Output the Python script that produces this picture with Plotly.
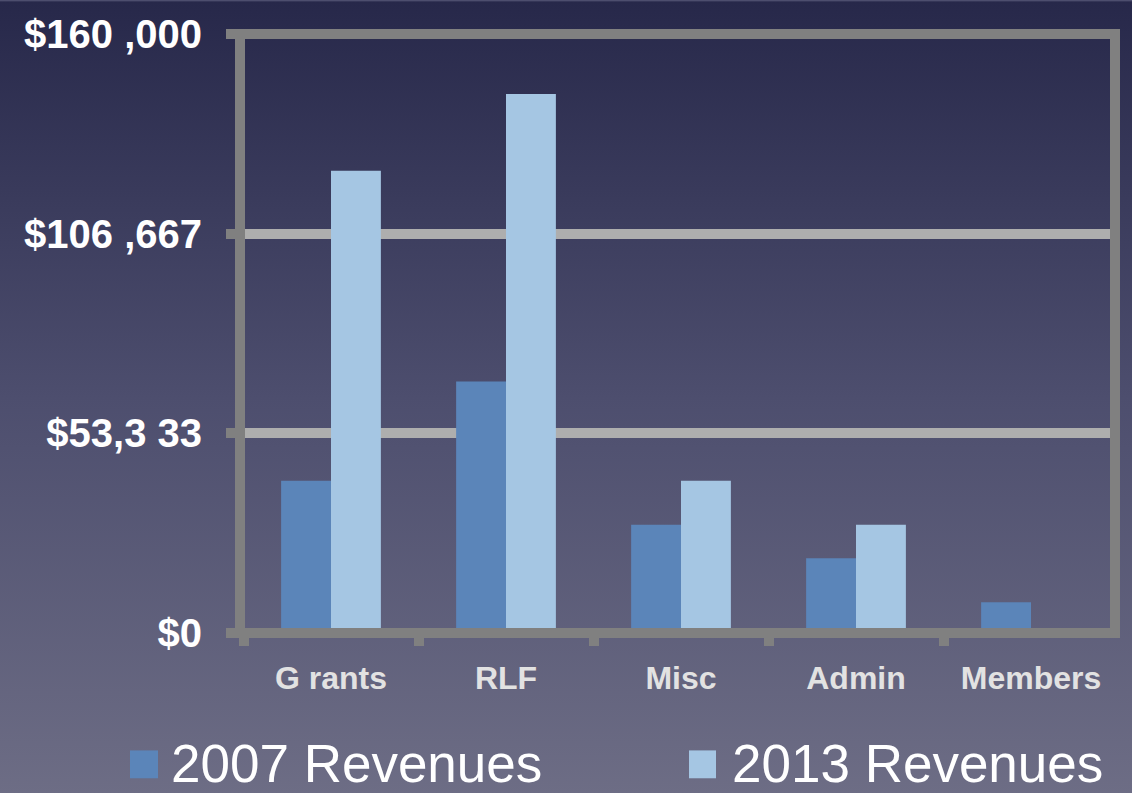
import base64
import plotly.graph_objects as go

# ---- data ----
categories = ["G rants", "RLF", "Misc", "Admin", "Members"]
rev_2007 = [40700, 67200, 28900, 20000, 8200]
rev_2013 = [123500, 144000, 40700, 28900, 0]
series_names = ["2007 Revenues", "2013 Revenues"]
y_tickvals = [0, 53333.33, 106666.67, 160000]
y_ticktext = ["$0", "$53,3 33", "$106 ,667", "$160 ,000"]

# ---- style ----
C2007 = "#5b85b9"
C2013 = "#a5c6e3"
BORDER = "#808080"
GRID = "#aeaeae"
FONT = "Liberation Sans"

W, H = 1132, 793
L, R, T, B = 240, 17, 31, 160
pw, ph = W - L - R, H - T - B


def px_x(p):
    return (p - L) / pw


def px_y(p):
    return (H - B - p) / ph


fig = go.Figure()
fig.add_bar(x=categories, y=rev_2007, name=series_names[0], marker_color=C2007,
            marker_line_width=0, showlegend=False)
fig.add_bar(x=categories, y=rev_2013, name=series_names[1], marker_color=C2013,
            marker_line_width=0, showlegend=False)

# gradient background as inline svg image
svg = ('<svg xmlns="http://www.w3.org/2000/svg" width="100" height="100" preserveAspectRatio="none">'
       '<defs><linearGradient id="g" x1="0" y1="0" x2="0" y2="1">'
       '<stop offset="0" stop-color="#27284a"/>'
       '<stop offset="0.5" stop-color="#4d4e6e"/>'
       '<stop offset="1" stop-color="#6d6d85"/>'
       '</linearGradient></defs><rect width="100" height="100" fill="url(#g)"/></svg>')
src = "data:image/svg+xml;base64," + base64.b64encode(svg.encode()).decode()

fig.update_layout(
    width=W, height=H, autosize=False,
    margin=dict(l=L, r=R, t=T, b=B, pad=0),
    paper_bgcolor="#4d4e6e",
    plot_bgcolor="rgba(0,0,0,0)",
    barmode="group", bargap=0.43, bargroupgap=0,
    images=[dict(source=src, xref="paper", yref="paper",
                 x=px_x(-2), y=px_y(-2), sizex=(W + 4) / pw, sizey=(H + 4) / ph,
                 xanchor="left", yanchor="top", sizing="stretch", layer="below")],
    xaxis=dict(type="category", range=[-0.52, 4.48], tickson="boundaries",
               ticks="outside", ticklen=12, tickwidth=10, tickcolor=BORDER,
               showgrid=False, showline=False, zeroline=False,
               tickfont=dict(family=FONT, size=32, color="#e2e2e2", weight="bold"),
               ticklabelstandoff=23),
    yaxis=dict(range=[0, 160000], tickmode="array", tickvals=y_tickvals, ticktext=y_ticktext,
               ticks="outside", ticklen=13, tickwidth=10, tickcolor=BORDER,
               showgrid=True, gridcolor=GRID, gridwidth=10, zeroline=False, showline=False,
               tickfont=dict(family=FONT, size=40, color="#ffffff", weight="bold"),
               ticklabelstandoff=16),
    shapes=[
        dict(type="rect", xref="paper", yref="paper", x0=0, x1=1, y0=0, y1=1,
             line=dict(color=BORDER, width=10), fillcolor="rgba(0,0,0,0)", layer="above"),
        # legend swatches
        dict(type="rect", xref="paper", yref="paper", x0=px_x(130), x1=px_x(158),
             y0=px_y(779), y1=px_y(751), fillcolor=C2007, line_width=0),
        dict(type="rect", xref="paper", yref="paper", x0=px_x(689), x1=px_x(716),
             y0=px_y(779), y1=px_y(751), fillcolor=C2013, line_width=0),
    ],
    annotations=[
        dict(text=series_names[0], xref="paper", yref="paper", x=px_x(170), y=px_y(764),
             xanchor="left", yanchor="middle", showarrow=False, borderpad=0,
             font=dict(family=FONT, size=53, color="#ffffff")),
        dict(text=series_names[1], xref="paper", yref="paper", x=px_x(731), y=px_y(764),
             xanchor="left", yanchor="middle", showarrow=False, borderpad=0,
             font=dict(family=FONT, size=53, color="#ffffff")),
    ],
)

fig.write_html("out.html", config={"displayModeBar": False},
               post_script="document.body.style.margin='0px';document.body.style.overflow='hidden';")
